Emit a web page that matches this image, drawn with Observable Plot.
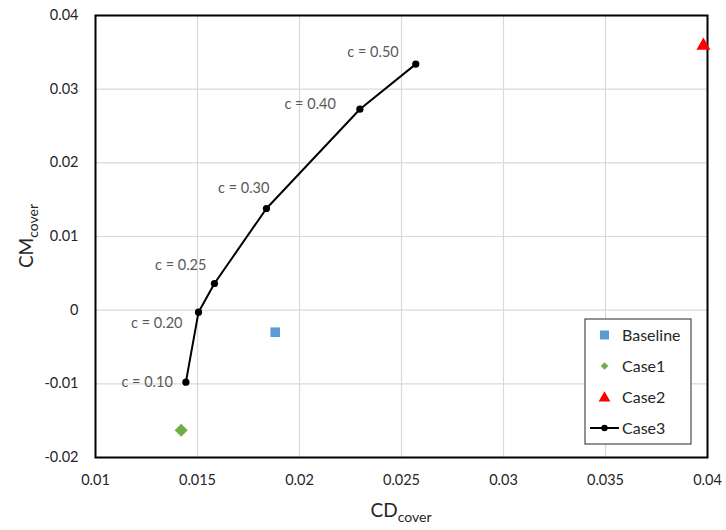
<!DOCTYPE html>
<html>
<head>
<meta charset="utf-8">
<script src="https://cdn.jsdelivr.net/npm/d3@7"></script>
<script src="https://cdn.jsdelivr.net/npm/@observablehq/plot@0.6"></script>
<style>
  body { margin: 0; background: #fff; }
  #chart svg { display: block; }
</style>
</head>
<body>
<div id="chart"></div>
<script>
// Cover drag / moment coefficients for each configuration
const seriesNames = ["Baseline", "Case1", "Case2", "Case3"];

const baselineCD = [0.01881];
const baselineCM = [-0.00299];

const case1CD = [0.0142];
const case1CM = [-0.0163];

const case2CD = [0.0398];
const case2CM = [0.0359];

// Case3: sweep over the clearance parameter c
const case3C  = ["0.10", "0.20", "0.25", "0.30", "0.40", "0.50"];
const case3CD = [0.01443, 0.01505, 0.01583, 0.01838, 0.02296, 0.0257];
const case3CM = [-0.00977, -0.00027, 0.00362, 0.0138, 0.02728, 0.0334];

// Axis ticks
const xTicks = [0.01, 0.015, 0.02, 0.025, 0.03, 0.035, 0.04];
const xTickLabels = ["0.01", "0.015", "0.02", "0.025", "0.03", "0.035", "0.04"];
const yTicks = [-0.02, -0.01, 0, 0.01, 0.02, 0.03, 0.04];
const yTickLabels = ["-0.02", "-0.01", "0", "0.01", "0.02", "0.03", "0.04"];

// ---- rendering ----
const FONT = "Lato, 'Open Sans', sans-serif";
const colors = { Baseline: "#5b9bd5", Case1: "#70ad47", Case2: "#ff0000", Case3: "#000000" };

const pts = (xs, ys) => xs.map((x, i) => ({ x, y: ys[i] }));
const baseline = pts(baselineCD, baselineCM);
const case1 = pts(case1CD, case1CM);
const case2 = pts(case2CD, case2CM);
const case3 = case3C.map((c, i) => ({ c, x: case3CD[i], y: case3CM[i] }));

// Label nudges (px) for the "c = ..." annotations, end-anchored
const labelNudge = {
  "0.10": [-13, 0],
  "0.20": [-16, 11],
  "0.25": [-8, -18],
  "0.30": [3, -20],
  "0.40": [-24, -5],
  "0.50": [-17, -12]
};

const W = 726, H = 530;
const M = { top: 15, right: 19, bottom: 73, left: 95 };

const fmt = (ticks, labels) => (d) => labels[ticks.findIndex((t) => Math.abs(t - d) < 1e-9)];

const plot = Plot.plot({
  width: W,
  height: H,
  marginTop: M.top,
  marginRight: M.right,
  marginBottom: M.bottom,
  marginLeft: M.left,
  style: { fontFamily: FONT, fontSize: "14px", color: "#262626", background: "#fff", overflow: "visible" },
  x: { domain: [0.01, 0.04], ticks: xTicks, label: null },
  y: { domain: [-0.02, 0.04], ticks: yTicks, label: null },
  marks: [
    Plot.gridX(xTicks, { stroke: "#d9d9d9", strokeOpacity: 1, strokeWidth: 1.2 }),
    Plot.gridY(yTicks, { stroke: "#d9d9d9", strokeOpacity: 1, strokeWidth: 1.2 }),
    Plot.axisX(xTicks, { tickSize: 0, tickPadding: 17, tickFormat: fmt(xTicks, xTickLabels), fontSize: 14.5, fill: "#262626" }),
    Plot.axisY(yTicks, { tickSize: 0, tickPadding: 17, tickFormat: fmt(yTicks, yTickLabels), fontSize: 14.5, fill: "#262626" }),
    Plot.frame({ stroke: "#000", strokeWidth: 2 }),
    Plot.line(case3, { x: "x", y: "y", stroke: colors.Case3, strokeWidth: 2 }),
    Plot.dot(case3, { x: "x", y: "y", r: 3.6, fill: colors.Case3 }),
    ...case3.map((d) => Plot.text([d], {
      x: "x", y: "y", text: (p) => `c = ${p.c}`,
      textAnchor: "end", dx: labelNudge[d.c][0], dy: labelNudge[d.c][1],
      fontSize: 14.5, fill: "#595959"
    })),
    Plot.dot(baseline, { x: "x", y: "y", symbol: "square", r: 5.4, fill: colors.Baseline }),
    Plot.dot(case1, { x: "x", y: "y", symbol: "square", rotate: 45, r: 5.2, fill: colors.Case1 }),
    Plot.dot(case2, { x: "x", y: "y", symbol: "triangle", r: 5.2, fill: colors.Case2, clip: false })
  ]
});

document.getElementById("chart").appendChild(plot);

// Axis titles with subscripts, plus legend, drawn into the same SVG
const svg = d3.select(plot);
const plotCx = M.left + (W - M.left - M.right) / 2;
const plotCy = M.top + (H - M.top - M.bottom) / 2;

const xTitle = svg.append("text")
  .attr("x", plotCx).attr("y", 517)
  .attr("text-anchor", "middle")
  .style("font-family", FONT).style("font-size", "19px").attr("fill", "#262626");
xTitle.append("tspan").text("CD");
xTitle.append("tspan").attr("dy", 5).style("font-size", "14px").text("cover");

const yTitle = svg.append("text")
  .attr("transform", `translate(33,${plotCy}) rotate(-90)`)
  .attr("text-anchor", "middle")
  .style("font-family", FONT).style("font-size", "19px").attr("fill", "#262626");
yTitle.append("tspan").text("CM");
yTitle.append("tspan").attr("dy", 5).style("font-size", "14px").text("cover");

// Legend
const lg = svg.append("g").attr("transform", "translate(585,319)");
lg.append("rect").attr("width", 106).attr("height", 125)
  .attr("fill", "#fff").attr("stroke", "#262626").attr("stroke-width", 1);
seriesNames.forEach((name, i) => {
  const y = 16 + i * 31;
  const g = lg.append("g").attr("transform", `translate(0,${y})`);
  if (name === "Case3") {
    g.append("line").attr("x1", 5).attr("x2", 34).attr("y1", 0).attr("y2", 0)
      .attr("stroke", colors.Case3).attr("stroke-width", 2);
    g.append("circle").attr("cx", 19.5).attr("cy", 0).attr("r", 3.2).attr("fill", colors.Case3);
  } else if (name === "Baseline") {
    g.append("path").attr("transform", "translate(19.5,0)")
      .attr("d", d3.symbol(d3.symbolSquare, 81)()).attr("fill", colors[name]);
  } else if (name === "Case1") {
    g.append("path").attr("transform", "translate(19.5,0) rotate(45)")
      .attr("d", d3.symbol(d3.symbolSquare, 30)()).attr("fill", colors[name]);
  } else {
    g.append("path").attr("transform", "translate(19.5,1)")
      .attr("d", d3.symbol(d3.symbolTriangle, 60)()).attr("fill", colors[name]);
  }
  g.append("text").attr("x", 37).attr("y", 0).attr("dy", "0.35em")
    .attr("text-anchor", "start")
    .style("font-family", FONT).style("font-size", "16px").attr("fill", "#262626")
    .text(name);
});
</script>
</body>
</html>
